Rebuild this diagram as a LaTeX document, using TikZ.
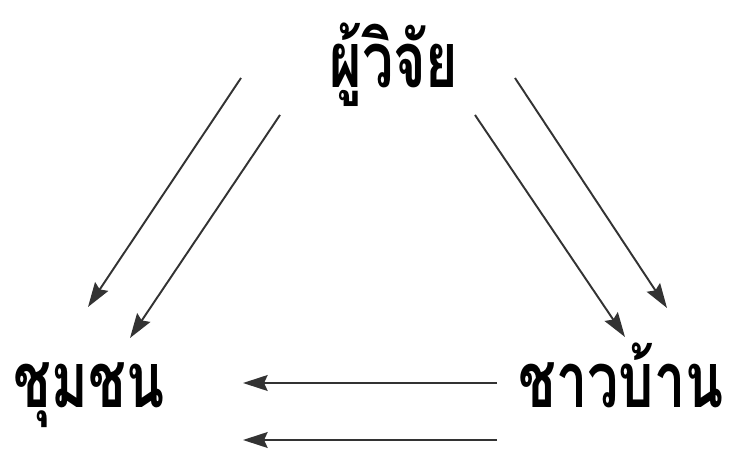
\documentclass[tikz,border=0pt]{standalone}
\usepackage{fontspec}
\newfontfamily\thaifont[Script=Thai,FakeStretch=0.72]{Loma}
\usetikzlibrary{arrows.meta,positioning}

\begin{document}
\begin{tikzpicture}[
    x=0.02cm, y=-0.02cm,
    word/.style={font=\thaifont\bfseries\fontsize{44}{50}\selectfont, inner sep=0pt, anchor=base},
    arrow/.style={->, >={Stealth[length=14pt,width=9pt,inset=2pt]}, line width=1.1pt, draw=black!80}
]
    \useasboundingbox (0,0) rectangle (734,452);

    \node[word] (res) at (394,88) {ผู้วิจัย};
    \node[word] (comm) at (89,408) {ชุมชน};
    \node[word] (vill) at (621,408) {ชาวบ้าน};

    % ends of the arrow pairs
    \coordinate (resL1) at (241,78);  \coordinate (commT1) at (88,307);
    \coordinate (resL2) at (280,115); \coordinate (commT2) at (130,338);
    \coordinate (resR1) at (515,78);  \coordinate (villT1) at (667,308);
    \coordinate (resR2) at (475,115); \coordinate (villT2) at (625,337);
    \coordinate (villL1) at (497,383); \coordinate (commR1) at (243,383);
    \coordinate (villL2) at (497,440); \coordinate (commR2) at (243,440);

    \draw[arrow] (resL1) -- (commT1);
    \draw[arrow] (resL2) -- (commT2);
    \draw[arrow] (resR1) -- (villT1);
    \draw[arrow] (resR2) -- (villT2);
    \draw[arrow] (villL1) -- (commR1);
    \draw[arrow] (villL2) -- (commR2);
\end{tikzpicture}
\end{document}
